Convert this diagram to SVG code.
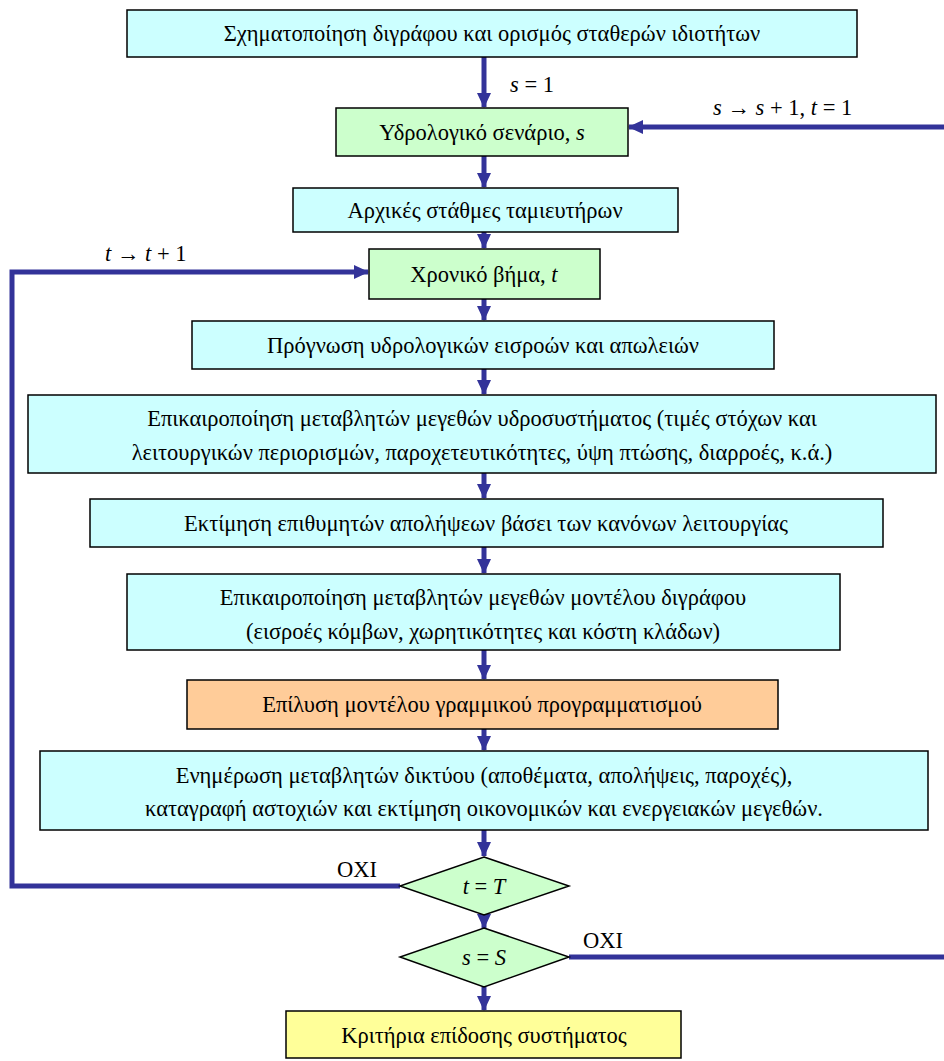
<svg xmlns="http://www.w3.org/2000/svg" width="944" height="1061" viewBox="0 0 944 1061" font-family="Liberation Serif" font-size="22.5">
<style>
svg, g, text, tspan { font-family: "Liberation Serif", serif !important; font-size: 22.5px !important; }
.i { font-style: italic !important; }
.box { stroke: #000; stroke-width: 1.5; }
.cy { fill: #CCFFFF; } .gr { fill: #CCFFCC; } .or { fill: #FFCC99; } .ye { fill: #FFFF99; }
.c { fill: none; stroke: #333399; stroke-width: 5; }
.m { text-anchor: middle; }
</style>
<defs>
<marker id="ah" markerUnits="userSpaceOnUse" markerWidth="16" markerHeight="16" refX="14" refY="8" orient="auto">
<path d="M0,1 L15,8 L0,15 Z" fill="#333399"/>
</marker>
</defs>
<g id="connectors">
<line class="c" x1="484" y1="57" x2="484" y2="107" marker-end="url(#ah)"/>
<line class="c" x1="944" y1="127" x2="629" y2="127" marker-end="url(#ah)"/>
<line class="c" x1="484" y1="156" x2="484" y2="187" marker-end="url(#ah)"/>
<line class="c" x1="484" y1="232" x2="484" y2="248" marker-end="url(#ah)"/>
<polyline class="c" points="400,886 12,886 12,272 368,272" marker-end="url(#ah)"/>
<line class="c" x1="484" y1="299" x2="484" y2="320" marker-end="url(#ah)"/>
<line class="c" x1="484" y1="369" x2="484" y2="394" marker-end="url(#ah)"/>
<line class="c" x1="484" y1="473" x2="484" y2="498" marker-end="url(#ah)"/>
<line class="c" x1="484" y1="547" x2="484" y2="573" marker-end="url(#ah)"/>
<line class="c" x1="484" y1="650" x2="484" y2="679" marker-end="url(#ah)"/>
<line class="c" x1="484" y1="729" x2="484" y2="750" marker-end="url(#ah)"/>
<line class="c" x1="484" y1="830" x2="484" y2="856" marker-end="url(#ah)"/>
<line class="c" x1="484" y1="915" x2="484" y2="928" marker-end="url(#ah)"/>
<line class="c" x1="569" y1="957" x2="944" y2="957"/>
<line class="c" x1="484" y1="987" x2="484" y2="1010" marker-end="url(#ah)"/>
<text x="510" y="92"><tspan class="i">s</tspan> = 1</text>
<text x="713" y="115"><tspan class="i">s</tspan> → <tspan class="i">s</tspan> + 1, <tspan class="i">t</tspan> = 1</text>
<text x="105" y="261"><tspan class="i">t</tspan> → <tspan class="i">t</tspan> + 1</text>
<text x="337" y="877">OXI</text>
<text x="583" y="948">OXI</text>
</g>
<g id="n1"><rect class="box cy" x="127" y="10" width="730" height="47"/><text class="m" x="492" y="41">Σχηματοποίηση διγράφου και ορισμός σταθερών ιδιοτήτων</text></g>
<g id="n2"><rect class="box gr" x="336" y="108" width="292" height="48"/><text class="m" x="482" y="140">Υδρολογικό σενάριο, <tspan class="i">s</tspan></text></g>
<g id="n3"><rect class="box cy" x="293" y="188" width="385" height="44"/><text class="m" x="485" y="218">Αρχικές στάθμες ταμιευτήρων</text></g>
<g id="n4"><rect class="box gr" x="369" y="249" width="231" height="50"/><text class="m" x="484" y="282">Χρονικό βήμα, <tspan class="i">t</tspan></text></g>
<g id="n5"><rect class="box cy" x="192" y="321" width="582" height="48"/><text class="m" x="483" y="353">Πρόγνωση υδρολογικών εισροών και απωλειών</text></g>
<g id="n6"><rect class="box cy" x="28" y="395" width="908" height="78"/><text class="m" x="482" y="426">Επικαιροποίηση μεταβλητών μεγεθών υδροσυστήματος (τιμές στόχων και</text><text class="m" x="482" y="460">λειτουργικών περιορισμών, παροχετευτικότητες, ύψη πτώσης, διαρροές, κ.ά.)</text></g>
<g id="n7"><rect class="box cy" x="90" y="499" width="793" height="48"/><text class="m" x="486" y="531">Εκτίμηση επιθυμητών απολήψεων βάσει των κανόνων λειτουργίας</text></g>
<g id="n8"><rect class="box cy" x="127" y="574" width="713" height="76"/><text class="m" x="483" y="605">Επικαιροποίηση μεταβλητών μεγεθών μοντέλου διγράφου</text><text class="m" x="483" y="639">(εισροές κόμβων, χωρητικότητες και κόστη κλάδων)</text></g>
<g id="n9"><rect class="box or" x="187" y="680" width="591" height="49"/><text class="m" x="482" y="712">Επίλυση μοντέλου γραμμικού προγραμματισμού</text></g>
<g id="n10"><rect class="box cy" x="40" y="751" width="888" height="79"/><text class="m" x="484" y="783">Ενημέρωση μεταβλητών δικτύου (αποθέματα, απολήψεις, παροχές),</text><text class="m" x="484" y="816">καταγραφή αστοχιών και εκτίμηση οικονομικών και ενεργειακών μεγεθών.</text></g>
<g id="d1"><polygon class="box gr" points="484,857 569,886 484,915 400,886"/><text class="m" x="484" y="894"><tspan class="i">t</tspan> = <tspan class="i">T</tspan></text></g>
<g id="d2"><polygon class="box gr" points="484,928 569,957 484,987 400,957"/><text class="m" x="484" y="965"><tspan class="i">s</tspan> = <tspan class="i">S</tspan></text></g>
<g id="n11"><rect class="box ye" x="286" y="1011" width="395" height="47"/><text class="m" x="484" y="1043">Κριτήρια επίδοσης συστήματος</text></g>
</svg>
